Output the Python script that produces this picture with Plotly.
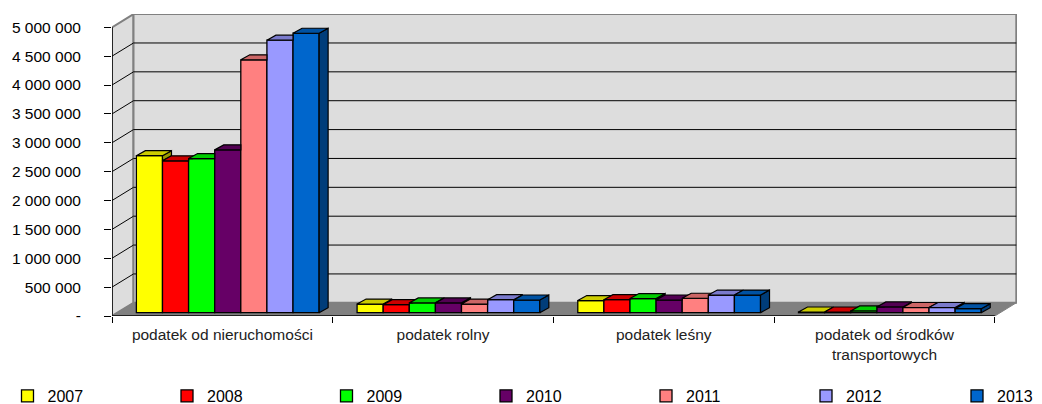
import plotly.graph_objects as go

years = ["2007", "2008", "2009", "2010", "2011", "2012", "2013"]
categories = ["podatek od nieruchomości", "podatek rolny", "podatek leśny",
              "podatek od środków<br>transportowych"]
values_2007 = [2720000, 150000, 210000, 12000]
values_2008 = [2630000, 140000, 225000, 12000]
values_2009 = [2670000, 170000, 245000, 30000]
values_2010 = [2820000, 170000, 220000, 100000]
values_2011 = [4380000, 150000, 250000, 90000]
values_2012 = [4720000, 225000, 305000, 90000]
values_2013 = [4840000, 220000, 305000, 70000]
series = [values_2007, values_2008, values_2009, values_2010, values_2011, values_2012, values_2013]
y_ticks = list(range(0, 5000001, 500000))
y_labels = ["-", "500 000", "1 000 000", "1 500 000", "2 000 000", "2 500 000",
            "3 000 000", "3 500 000", "4 000 000", "4 500 000", "5 000 000"]

front = ["#FFFF00", "#FF0000", "#00FF00", "#660066", "#FF8080", "#9999FF", "#0066CC"]
top = ["#CCCC00", "#CC0000", "#00CC00", "#520052", "#CC6666", "#7A7ACC", "#0052A3"]
side = ["#999900", "#990000", "#009900", "#3D003D", "#994D4D", "#5C5C99", "#003D7A"]

PX_X = 220.7
PX_Y = 57.74e-6
WALL_DX, WALL_DY = 21.5 / PX_X, 13.2 / PX_Y
INSET_DX, INSET_DY = 5.4 / PX_X, 3.3 / PX_Y
BAR_DX, BAR_DY = 9 / PX_X, 5 / PX_Y
BARGAP = 0.172
BAR_W = (1 - BARGAP) / 7
XMAX, YMAX = 905 / PX_X, 302 / PX_Y
LEGEND_X = [7.5, 167, 326.5, 486, 646, 806]
LEGEND_LAST_RIGHT = 1038

fig = go.Figure()

for s, (name, vals, col) in enumerate(zip(years, series, front)):
    fig.add_trace(go.Bar(
        x=[i + 0.5 + INSET_DX for i in range(4)], y=vals, base=INSET_DY, name=name,
        marker=dict(color=col, line=dict(color="black", width=1.3)),
        legend="legend" if s == 0 else f"legend{s + 1}", hoverinfo="skip"))


def poly(xs, ys, color):
    fig.add_trace(go.Scatter(
        x=xs + xs[:1], y=ys + ys[:1], mode="lines", fill="toself", fillcolor=color,
        line=dict(color="black", width=1.2), showlegend=False, hoverinfo="skip"))


for c in range(4):
    left = c + 0.5 + INSET_DX - 3.5 * BAR_W
    for s in range(7):
        x0, x1 = left + s * BAR_W, left + (s + 1) * BAR_W
        t = series[s][c] + INSET_DY
        tn = series[s + 1][c] + INSET_DY if s < 6 else INSET_DY
        # side face, the part not hidden by the next bar
        if s == 6 or tn < t:
            low = tn if s < 6 else INSET_DY
            poly([x1, x1 + BAR_DX, x1 + BAR_DX, x1],
                 [low, low + BAR_DY, t + BAR_DY, t], side[s])
        # top face, cut where the next bar stands in front of it
        if s < 6 and tn > t:
            f = min(1, (tn - t) / BAR_DY)
            xs = [x0, x1, x1, x1 + BAR_DX * f, x1 + BAR_DX, x0 + BAR_DX]
            ys = [t, t, t + BAR_DY * f, t + BAR_DY * f, t + BAR_DY, t + BAR_DY]
            if f == 1:
                xs, ys = [x0, x1, x1, x0 + BAR_DX], [t, t, t + BAR_DY, t + BAR_DY]
            poly(xs, ys, top[s])
        else:
            poly([x0, x1, x1 + BAR_DX, x0 + BAR_DX], [t, t, t + BAR_DY, t + BAR_DY], top[s])

# axis lines in front of the floor
fig.add_trace(go.Scatter(x=[0, 0, 4], y=[5000000, 0, 0], mode="lines", cliponaxis=False,
                         line=dict(color="black", width=1.4), showlegend=False, hoverinfo="skip"))

shapes = [
    dict(type="path", path=f"M0,0 L{WALL_DX},{WALL_DY} L{WALL_DX},{5000000 + WALL_DY} L0,5000000 Z",
         fillcolor="#DDDDDD", line=dict(color="#808080", width=2)),
    dict(type="path", path=f"M{WALL_DX},{WALL_DY} L{4 + WALL_DX},{WALL_DY} L{4 + WALL_DX},{5000000 + WALL_DY} "
                           f"L{WALL_DX},{5000000 + WALL_DY} Z",
         fillcolor="#DDDDDD", line=dict(color="#808080", width=2)),
    dict(type="path", path=f"M0,0 L4,0 L{4 + WALL_DX},{WALL_DY} L{WALL_DX},{WALL_DY} Z",
         fillcolor="#808080", line=dict(color="#808080", width=1)),
]
for v in y_ticks[1:-1]:
    shapes.append(dict(type="line", x0=0, y0=v, x1=WALL_DX, y1=v + WALL_DY, line=dict(color="black", width=1)))
    shapes.append(dict(type="line", x0=WALL_DX, y0=v + WALL_DY, x1=4 + WALL_DX, y1=v + WALL_DY,
                       line=dict(color="black", width=1)))
for sh in shapes:
    sh.update(xref="x", yref="y", layer="below")

legend_font = dict(size=16, color="black", family="Liberation Sans")
legend_y = (316 - 379) / 302
legends = {}
for s, px in enumerate(LEGEND_X):
    legends["legend" if s == 0 else f"legend{s + 1}"] = dict(
        orientation="v", x=(px - 112) / 905, xanchor="left", y=legend_y, yanchor="top",
        bgcolor="rgba(0,0,0,0)", font=legend_font, itemclick=False, itemdoubleclick=False)
legends["legend7"] = dict(
    orientation="v", x=(LEGEND_LAST_RIGHT - 112) / 905, xanchor="right", y=legend_y, yanchor="top",
    bgcolor="rgba(0,0,0,0)", font=legend_font, itemclick=False, itemdoubleclick=False)

fig.update_layout(
    width=1034, height=396, autosize=False, barmode="group", bargap=BARGAP, bargroupgap=0,
    margin=dict(l=104, r=25, t=6, b=88, autoexpand=False), paper_bgcolor="white", plot_bgcolor="white",
    font=dict(family="Liberation Sans", color="black"), shapes=shapes,
    xaxis=dict(range=[0, XMAX], tickmode="array", tickvals=[i + 0.5 for i in range(4)], ticktext=categories,
               ticks="", showgrid=False, zeroline=False, showline=False, tickangle=0, automargin=False,
               ticklabelstandoff=7, tickfont=dict(size=15.5, color="#222222"),
               minor=dict(tickmode="array", tickvals=[0, 1, 2, 3, 4], ticks="outside", ticklen=6,
                          tickcolor="black", tickwidth=1, showgrid=False)),
    yaxis=dict(range=[0, YMAX], tickmode="array", tickvals=y_ticks, ticktext=y_labels, ticks="outside",
               ticklen=7, tickcolor="black", tickwidth=1, showgrid=False, zeroline=False, showline=False,
               automargin=False, ticklabelstandoff=20, tickfont=dict(size=15.5, color="black")),
    **legends,
)

fig.write_html("out.html", config=dict(displayModeBar=False))
